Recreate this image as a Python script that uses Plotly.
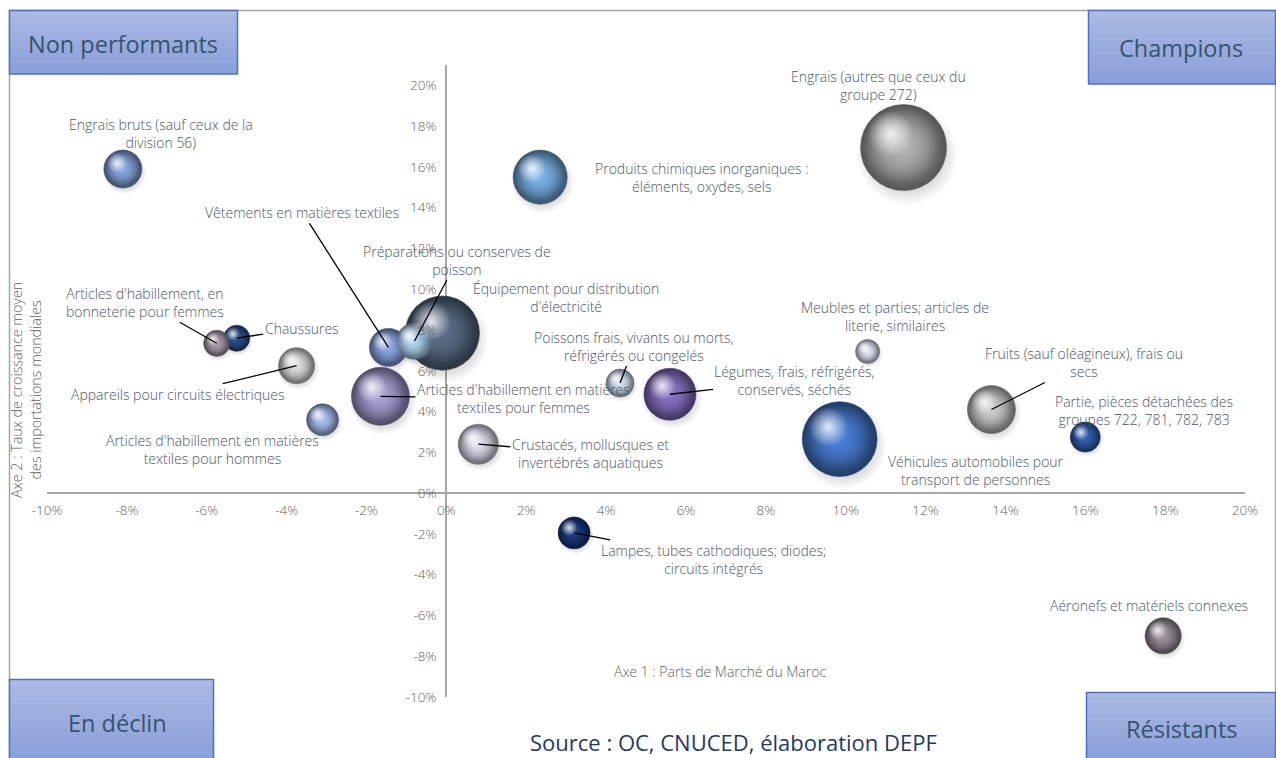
import plotly.graph_objects as go
import numpy as np

# ---------------- DATA ----------------
produits = [
    "Engrais bruts (sauf ceux de la<br>division 56)",
    "Produits chimiques inorganiques :<br>éléments, oxydes, sels",
    "Engrais (autres que ceux du<br>groupe 272)",
    "Vêtements en matières textiles",
    "Préparations ou conserves de<br>poisson",
    "Équipement pour distribution<br>d'électricité",
    "Articles d'habillement, en<br>bonneterie pour femmes",
    "Chaussures",
    "Appareils pour circuits électriques",
    "Articles d'habillement en matières<br>textiles pour femmes",
    "Articles d'habillement en matières<br>textiles pour hommes",
    "Crustacés, mollusques et<br>invertébrés aquatiques",
    "Poissons frais, vivants ou morts,<br>réfrigérés ou congelés",
    "Légumes, frais, réfrigérés,<br>conservés, séchés",
    "Meubles et parties; articles de<br>literie, similaires",
    "Véhicules automobiles pour<br>transport de personnes",
    "Fruits (sauf oléagineux), frais ou<br>secs",
    "Partie, pièces détachées des<br>groupes 722, 781, 782, 783",
    "Lampes, tubes cathodiques; diodes;<br>circuits intégrés",
    "Aéronefs et matériels connexes",
]
# Axe 1 : parts de marché du Maroc (%)
part_marche = [-8.1, 2.35, 11.45, -1.45, -0.8, -0.1, -5.75, -5.25, -3.75, -1.65,
               -3.1, 0.8, 4.35, 5.6, 10.55, 9.85, 13.65, 16.0, 3.2, 17.95]
# Axe 2 : taux de croissance moyen des importations mondiales (%)
croissance = [15.9, 15.5, 16.95, 7.15, 7.45, 7.85, 7.35, 7.6, 6.25, 4.75,
              3.6, 2.4, 5.4, 4.85, 6.95, 2.65, 4.1, 2.75, -1.95, -7.0]
# poids relatif des bulles
poids = [14.4, 29.2, 74.0, 14.4, 13.0, 55.0, 6.8, 6.8, 13.0, 33.6,
         10.2, 16.0, 7.8, 27.0, 5.8, 56.0, 23.0, 9.0, 10.2, 13.0]

x_tick_vals = [-10, -8, -6, -4, -2, 0, 2, 4, 6, 8, 10, 12, 14, 16, 18, 20]
x_tick_text = ["-10%", "-8%", "-6%", "-4%", "-2%", "0%", "2%", "4%", "6%", "8%",
               "10%", "12%", "14%", "16%", "18%", "20%"]
y_tick_vals = [-10, -8, -6, -4, -2, 0, 2, 4, 6, 8, 10, 12, 14, 16, 18, 20]
y_tick_text = ["-10%", "-8%", "-6%", "-4%", "-2%", "0%", "2%", "4%", "6%", "8%",
               "10%", "12%", "14%", "16%", "18%", "20%"]

quadrants = ["Non performants", "Champions", "En déclin", "Résistants"]

# ---------------- STYLES ----------------
base_col = ["#8aa6e0", "#7ab2e8", "#b2b2b2", "#8ca6e6", "#b4d8f6", "#5a6d86",
            "#aa9aaa", "#2c508c", "#dedede", "#a8a0d6", "#aabcf0", "#e2def0",
            "#d4e2f0", "#8872c4", "#e2e2f2", "#4a7ed6", "#cccccc", "#3060b2",
            "#183a80", "#9c909c"]
EDGE_DARKEN = 0.48
# label offsets (px) from bubble, and whether a leader line is drawn
label_dx = [38, 162, -25, -86, 43, 124, -72, 65, -119, 143, -110, 112, 14, 125, 27, 136, 93, 59, 139, -14]
label_dy = [-35, 0, -62, -135, -81, -36, -41, -10, 29, 2, 30, 9, -37, -14, -35, 31, -47, -27, 27, -30]
leader = [0, 0, 0, 1, 1, 0, 1, 1, 1, 1, 0, 1, 1, 1, 0, 0, 1, 0, 1, 0]

W, H = 1276, 758
PL, PR, PT, PB = 47, 1245, 65, 697
X_RANGE = [-10, 20]
Y_RANGE = [-10, 21]
FONT = "Open Sans"
LABEL_COL = "#4a5668"
TICK_COL = "#5f5f5f"
PX_PER_X = (PR - PL) / (X_RANGE[1] - X_RANGE[0])
PX_PER_Y = (PB - PT) / (Y_RANGE[1] - Y_RANGE[0])


def px2x(px):
    return (px - PL) / (PR - PL)


def py2y(py):
    return (PB - py) / (PB - PT)


def hex_rgb(h):
    h = h.lstrip("#")
    return [int(h[i:i + 2], 16) for i in (0, 2, 4)]


def darker(h, f):
    r, g, b = [int(v * f) for v in hex_rgb(h)]
    return f"rgb({r},{g},{b})"


def rgba(h, a):
    r, g, b = hex_rgb(h)
    return f"rgba({r},{g},{b},{a})"


SIZEREF = 0.02
order = np.argsort(poids)[::-1]
xs = np.array(part_marche)[order]
ys = np.array(croissance)[order]
ps = np.array(poids)[order]
bc = [base_col[i] for i in order]
radius_px = np.sqrt(ps / (2 * SIZEREF))

fig = go.Figure()

# drop shadows (slightly down-right)
fig.add_trace(go.Scatter(
    x=xs + 0.08 * radius_px / PX_PER_X, y=ys - 0.16 * radius_px / PX_PER_Y,
    mode="markers", hoverinfo="skip", showlegend=False,
    marker=dict(size=ps, sizemode="area", sizeref=SIZEREF / 1.4, opacity=1,
                color="rgba(0,0,0,0)",
                gradient=dict(type="radial", color="rgba(0,0,0,0.5)"),
                line=dict(width=0)),
))
# spheres (dark rim)
fig.add_trace(go.Scatter(
    x=xs, y=ys, mode="markers", showlegend=False,
    text=[produits[i] for i in order], hoverinfo="text",
    marker=dict(size=ps, sizemode="area", sizeref=SIZEREF, opacity=1,
                color=[darker(c, EDGE_DARKEN) for c in bc],
                gradient=dict(type="radial", color=bc),
                line=dict(width=0.6, color=[darker(c, EDGE_DARKEN) for c in bc])),
))
# body colour filling the middle of each sphere
fig.add_trace(go.Scatter(
    x=xs - 0.05 * radius_px / PX_PER_X, y=ys + 0.05 * radius_px / PX_PER_Y,
    mode="markers", hoverinfo="skip", showlegend=False,
    marker=dict(size=ps, sizemode="area", sizeref=SIZEREF / 0.78, opacity=1,
                color=[rgba(c, 0) for c in bc],
                gradient=dict(type="radial", color=bc),
                line=dict(width=0)),
))
# specular highlights (up-left)
fig.add_trace(go.Scatter(
    x=xs - 0.30 * radius_px / PX_PER_X, y=ys + 0.32 * radius_px / PX_PER_Y,
    mode="markers", hoverinfo="skip", showlegend=False,
    marker=dict(size=ps, sizemode="area", sizeref=SIZEREF / 0.28, opacity=1,
                color="rgba(255,255,255,0)",
                gradient=dict(type="radial", color="rgba(255,255,255,0.85)"),
                line=dict(width=0)),
))

annotations = []
for i in range(len(produits)):
    annotations.append(dict(
        x=part_marche[i], y=croissance[i], xref="x", yref="y",
        text=produits[i], showarrow=True, ax=label_dx[i], ay=label_dy[i],
        arrowhead=0, arrowwidth=1.3, standoff=0,
        arrowcolor="#000000" if leader[i] else "rgba(0,0,0,0)",
        font=dict(family=FONT, size=14, color=LABEL_COL, weight=300), align="center",
    ))


def paper_text(px, py, text, size, color, angle=0, weight=400):
    return dict(x=px2x(px), y=py2y(py), xref="paper", yref="paper",
                xanchor="center", yanchor="middle", text=text, showarrow=False,
                textangle=angle, font=dict(family=FONT, size=size, color=color, weight=weight))


annotations.append(paper_text(720, 671, "Axe 1 : Parts de Marché du Maroc", 14, TICK_COL, weight=300))
annotations.append(paper_text(26, 390, "Axe 2 : Taux de croissance moyen<br>des importations mondiales",
                              14.3, TICK_COL, -90, weight=300))
annotations.append(paper_text(733, 742, "Source : OC, CNUCED, élaboration DEPF", 22, "#1f3a5f"))

shapes = []
shapes.append(dict(type="rect", xref="paper", yref="paper",
                   x0=px2x(9.5), x1=px2x(1275.5), y0=py2y(10.5), y1=py2y(762),
                   line=dict(color="#a6a6a6", width=1.5), fillcolor="rgba(0,0,0,0)", layer="below"))

boxes = [(9, 238, 10, 74), (1088, 1276, 10, 84), (9, 214, 679, 760), (1086, 1276, 692, 760)]
top_rgb = np.array([172, 186, 228])
bot_rgb = np.array([138, 160, 217])
N = 12
for (x0, x1, y0, y1) in boxes:
    for k in range(N):
        t = k / (N - 1)
        c = (top_rgb * (1 - t) + bot_rgb * t).astype(int)
        ya = y0 + (y1 - y0) * k / N
        yb = min(y0 + (y1 - y0) * (k + 1) / N + 0.6, y1)
        shapes.append(dict(type="rect", xref="paper", yref="paper",
                           x0=px2x(x0), x1=px2x(x1), y0=py2y(ya), y1=py2y(yb),
                           line=dict(width=0), fillcolor=f"rgb({c[0]},{c[1]},{c[2]})", layer="above"))
    shapes.append(dict(type="rect", xref="paper", yref="paper",
                       x0=px2x(x0 + 0.5), x1=px2x(x1 - 0.5), y0=py2y(y0 + 0.5), y1=py2y(y1),
                       line=dict(color="#4a72c4", width=1.5), fillcolor="rgba(0,0,0,0)", layer="above"))

label_pos = [(123, 44), (1181, 48), (117, 723), (1181, 729)]
for q, (lx, ly) in zip(quadrants, label_pos):
    annotations.append(paper_text(lx, ly, q, 23.5, "#35536e"))

fig.update_layout(
    width=W, height=H,
    margin=dict(l=PL, r=W - PR, t=PT, b=H - PB, pad=0),
    paper_bgcolor="white", plot_bgcolor="white",
    showlegend=False,
    annotations=annotations, shapes=shapes,
    xaxis=dict(range=X_RANGE, anchor="free", position=10 / 31,
               showgrid=False, zeroline=True, zerolinecolor="#a6a6a6", zerolinewidth=2,
               showline=False, ticks="", tickvals=x_tick_vals, ticktext=x_tick_text,
               ticklabelstandoff=7,
               tickfont=dict(family=FONT, size=13.5, color=TICK_COL, weight=300)),
    yaxis=dict(range=Y_RANGE, anchor="free", position=10 / 30,
               showgrid=False, zeroline=True, zerolinecolor="#a6a6a6", zerolinewidth=2,
               showline=False, ticks="", tickvals=y_tick_vals, ticktext=y_tick_text,
               ticklabelstandoff=10,
               tickfont=dict(family=FONT, size=13.5, color=TICK_COL, weight=300)),
)

fig.write_html("out.html")
